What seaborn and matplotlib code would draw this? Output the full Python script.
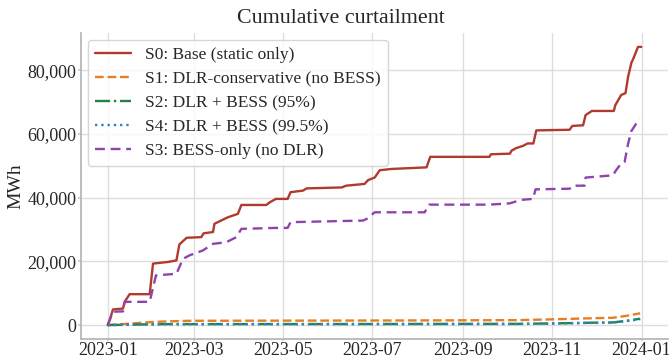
import matplotlib
matplotlib.use("Agg")
import matplotlib.pyplot as plt
import matplotlib.ticker as mticker
import matplotlib.dates as mdates
import numpy as np
import pandas as pd
import seaborn as sns

# Cumulative curtailment (MWh), sampled at day-of-year breakpoints (day 0 = 2023-01-01)
s0_days = [0, 1.4, 3.6, 10.5, 11.6, 15, 28.7, 31, 41, 47, 49, 54, 64, 65.6, 72, 73, 82,
           85.7, 89, 91.4, 108.5, 110.7, 115, 123, 125, 133.5, 136, 160, 163, 175.6, 178,
           182.5, 186, 194, 218, 220.5, 261, 262, 275, 276, 279, 284, 287, 291, 293, 315.8,
           317.6, 325, 326.7, 331, 346, 347, 351, 354, 355.7, 358, 359.5, 362.5, 364.8]
s0_vals = [0, 1600, 4900, 5200, 7300, 9700, 9700, 19300, 19800, 20300, 25300, 27400, 27600,
           28800, 29200, 31800, 33800, 34400, 34900, 37700, 37700, 38500, 39600, 39600, 41700,
           42200, 42900, 43200, 43750, 44300, 45500, 46300, 48600, 49000, 49500, 52800, 52800,
           53600, 53800, 54700, 55500, 56250, 57000, 57000, 61100, 61300, 62500, 62700, 65900,
           67200, 67200, 69000, 72200, 72800, 77800, 82300, 83800, 87300, 87300]

s1_days = [0, 17, 33, 56, 200, 280, 304, 327, 345.4, 354.6, 364]
s1_vals = [0, 530, 1040, 1350, 1450, 1550, 1800, 2100, 2300, 2900, 3700]

s2_days = [0, 20, 40, 150, 280, 304, 327, 345.4, 354.6, 364]
s2_vals = [0, 180, 310, 330, 380, 520, 720, 830, 1350, 2000]

s4_days = [0, 20, 40, 150, 280, 304, 327, 345.4, 354.6, 364]
s4_vals = [0, 160, 280, 300, 340, 470, 660, 770, 1250, 1850]

s3_days = [0, 3.6, 10.5, 11.6, 28.7, 33, 47, 51.5, 56, 65, 72, 81, 88, 91.4, 115, 123, 125,
           174.5, 177, 182.5, 216.7, 219.6, 261, 274.8, 282.7, 290.7, 292.5, 315.8, 318, 326,
           326.7, 345.4, 347.7, 351, 353.4, 355.7, 358, 363.5]
s3_vals = [0, 4200, 4300, 7300, 7300, 15600, 16100, 20800, 21900, 23400, 25500, 26000, 27600,
           30200, 30500, 30500, 32300, 32800, 33300, 35400, 35400, 37800, 37800, 38200, 39300,
           39600, 42600, 42800, 43750, 43750, 46300, 47000, 48700, 50700, 51250, 56800, 60900,
           64800]

labels = ["S0: Base (static only)", "S1: DLR-conservative (no BESS)", "S2: DLR + BESS (95%)",
          "S4: DLR + BESS (99.5%)", "S3: BESS-only (no DLR)"]
colors = ["#B03A2E", "#E67E22", "#1E8449", "#2E86C1", "#8E44AD"]
styles = ["-", "--", "-.", ":", (0, (4.2, 2.4))]

series = [(s0_days, s0_vals), (s1_days, s1_vals), (s2_days, s2_vals),
          (s4_days, s4_vals), (s3_days, s3_vals)]

start = pd.Timestamp("2023-01-01")

sns.set_theme(style="whitegrid")
plt.rcParams["font.family"] = ["Liberation Serif", "DejaVu Serif"]
plt.rcParams["axes.edgecolor"] = "#b5b5b5"
plt.rcParams["grid.color"] = "#dddddd"

fig = plt.figure(figsize=(6.69, 3.6), dpi=100)
ax = fig.add_axes([81 / 669, 1 - 339 / 360, 587 / 669, 306 / 360])

for (days, vals), lab, col, ls in zip(series, labels, colors, styles):
    dates = start + pd.to_timedelta(np.asarray(days), unit="D")
    df = pd.DataFrame({"date": dates, "MWh": vals})
    sns.lineplot(data=df, x="date", y="MWh", ax=ax, color=col, linestyle=ls,
                 linewidth=1.7, label=lab)

ax.set_title("Cumulative curtailment", fontsize=15.8, pad=7, x=0.442)
ax.set_xlabel("")
ax.set_ylabel("MWh", fontsize=14, labelpad=2)
ax.yaxis.set_major_locator(mticker.MultipleLocator(20000))
ax.yaxis.set_major_formatter(mticker.FuncFormatter(lambda v, p: f"{v:,.0f}"))
ax.xaxis.set_major_locator(mdates.MonthLocator(bymonth=[1, 3, 5, 7, 9, 11]))
ax.xaxis.set_major_formatter(mdates.DateFormatter("%Y-%m"))
ax.tick_params(axis="both", labelsize=13, color="#cccccc")
ax.tick_params(axis="y", left=True, length=2.5, pad=1)
ax.tick_params(axis="x", bottom=True, length=1.5, pad=0.5)
sns.despine(ax=ax)

leg = ax.legend(loc="upper left", fontsize=12.5, frameon=True, handlelength=2.1,
                borderaxespad=0.4, labelspacing=0.45, handletextpad=0.8)
leg.get_frame().set_edgecolor("#cccccc")

fig.savefig("out.png", dpi=100)
